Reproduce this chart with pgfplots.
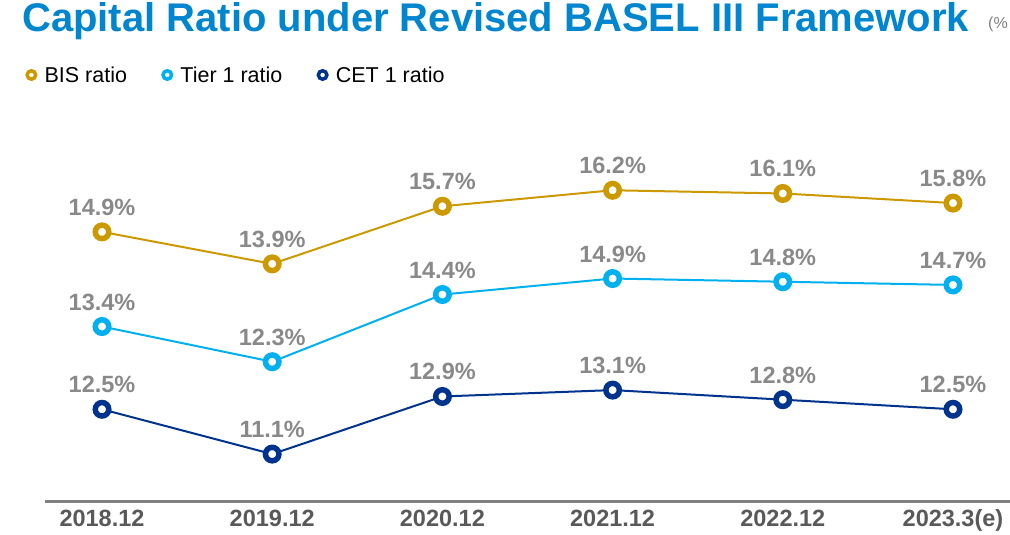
\documentclass[border=0pt]{standalone}
\usepackage{fontspec}
\setmainfont{Liberation Sans}
\usepackage{pgfplots}
\pgfplotsset{compat=1.18}
\definecolor{bis}{RGB}{204,153,0}
\definecolor{tier}{RGB}{0,176,240}
\definecolor{cet}{RGB}{0,51,141}
\definecolor{titleblue}{RGB}{0,133,207}
\definecolor{lblgray}{RGB}{137,137,137}
\definecolor{tickgray}{RGB}{89,89,89}
\definecolor{axisgray}{RGB}{128,128,128}
\pgfplotsset{
  base/.style={scale only axis, width=965pt, height=362pt, at={(45pt,33pt)}, anchor=south west,
    xmin=-0.335, xmax=5.335, clip=false,
    point meta=y,
    /pgf/number format/assume math mode=true,
    nodes near coords={\pgfmathprintnumber[fixed,fixed zerofill,precision=1]{\pgfplotspointmeta}\%},
    every node near coord/.append style={anchor=base, yshift=16.5pt, inner sep=0pt,
      font=\fontsize{23.5}{24}\selectfont\bfseries, text=lblgray},
  },
  ser/.style={color=#1, line width=2pt, mark=*, mark size=6.75pt,
    mark options={fill=white, draw=#1, line width=5.5pt}},
}
\begin{document}
\begin{tikzpicture}
\useasboundingbox (0,0) rectangle (1010pt,535pt);
\node[anchor=base west, inner sep=0pt, font=\fontsize{40}{40}\selectfont\bfseries, text=titleblue] at (22pt,503pt) {Capital Ratio under Revised BASEL III Framework};
\node[anchor=base west, inner sep=0pt, font=\fontsize{16}{16}\selectfont, text=axisgray] at (988pt,506pt) {(\%};
% axis 1: BIS ratio + x axis + legend
\begin{axis}[base, ymin=6.459, ymax=17.771,
  axis x line=bottom, axis y line=none,
  x axis line style={draw=axisgray, line width=3pt, -},
  xtick={0,1,2,3,4,5},
  xticklabels={2018.12,2019.12,2020.12,2021.12,2022.12,2023.3(e)},
  major tick length=0pt,
  xticklabel style={anchor=base, yshift=-25pt, font=\fontsize{23.5}{24}\selectfont\bfseries, text=tickgray},
  legend columns=3,
  legend style={draw=none, fill=none, inner sep=0pt, at={(axis description cs:-0.0207,1.1796)}, anchor=west,
    font=\fontsize{21.5}{22}\selectfont, text=black,
    /tikz/every even column/.append style={column sep=32pt}},
]
\addlegendimage{legend image code/.code={\draw[bis, line width=3.5pt, fill=white] (6pt,0pt) circle (4.25pt); \path (0pt,0pt) (17pt,0pt);}}
\addlegendentry{BIS ratio}
\addlegendimage{legend image code/.code={\draw[tier, line width=3.5pt, fill=white] (6pt,0pt) circle (4.25pt); \path (0pt,0pt) (17pt,0pt);}}
\addlegendentry{Tier 1 ratio}
\addlegendimage{legend image code/.code={\draw[cet, line width=3.5pt, fill=white] (6pt,0pt) circle (4.25pt); \path (0pt,0pt) (17pt,0pt);}}
\addlegendentry{CET 1 ratio}
\addplot[ser=bis, forget plot] coordinates {(0,14.9) (1,13.9) (2,15.7) (3,16.2) (4,16.1) (5,15.8)};
\end{axis}
% axis 2: Tier 1 ratio
\begin{axis}[base, hide axis, ymin=7.917, ymax=19.229]
\addplot[ser=tier] coordinates {(0,13.4) (1,12.3) (2,14.4) (3,14.9) (4,14.8) (5,14.7)};
\end{axis}
% axis 3: CET 1 ratio
\begin{axis}[base, hide axis, ymin=9.603, ymax=20.915]
\addplot[ser=cet] coordinates {(0,12.5) (1,11.1) (2,12.9) (3,13.1) (4,12.8) (5,12.5)};
\end{axis}
\end{tikzpicture}
\end{document}
